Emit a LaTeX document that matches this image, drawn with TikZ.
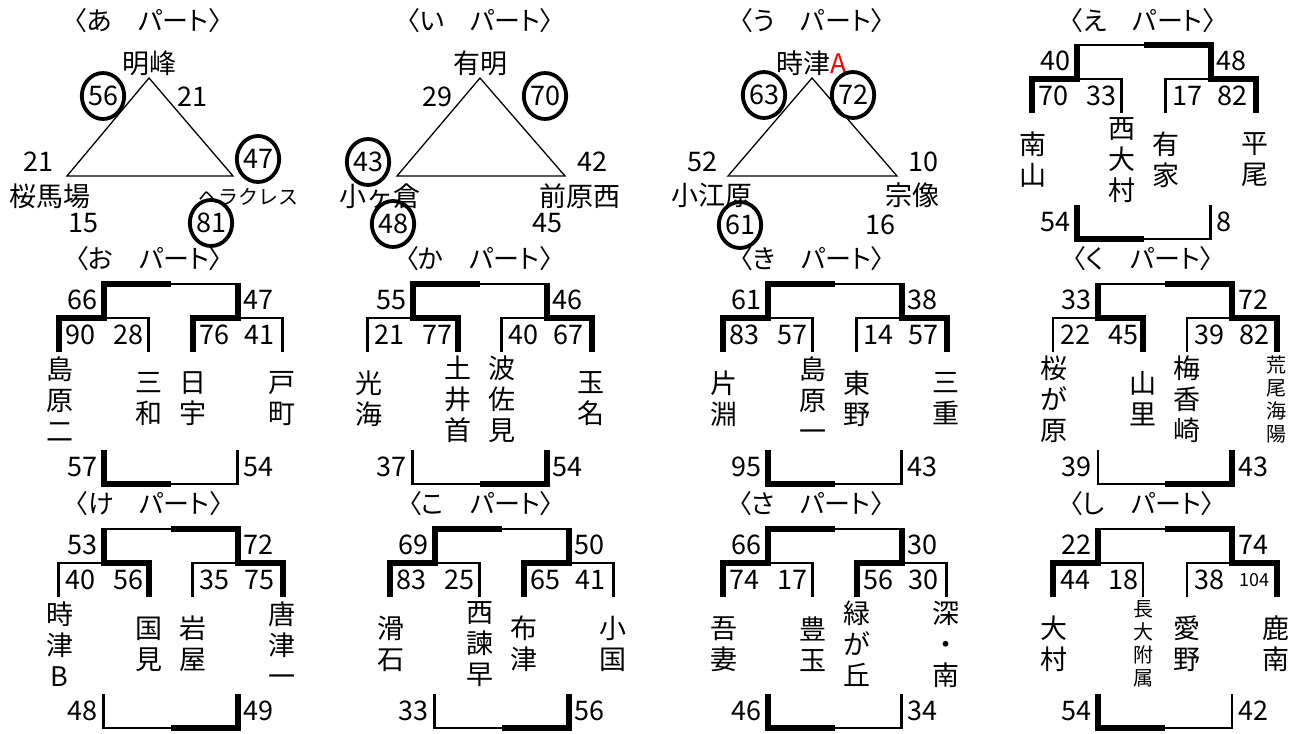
\documentclass[tikz,border=0pt]{standalone}
\usepackage{fontspec}
\setmainfont{Noto Sans CJK JP}
\newfontfamily\ttlfont{Noto Sans CJK JP}[RawFeature=+palt]
\usetikzlibrary{shapes.geometric}

\newcommand\bout[6]{%
  \pgfmathsetmacro\xmid{(#1+#2)/2}%
  \ifnum#5>#6\relax
    \draw[win] (#1,#4) -- (#1,#3) -- (\xmid,#3);
    \draw[lose] (\xmid,#3) -- (#2,#3) -- (#2,#4);
  \else
    \draw[lose] (#1,#4) -- (#1,#3) -- (\xmid,#3);
    \draw[win] (\xmid,#3) -- (#2,#3) -- (#2,#4);
  \fi}

\begin{document}
\begin{tikzpicture}[x=1pt,y=-1pt]
\tikzstyle{every node}+=[inner sep=0pt, font=\fontsize{27}{31}\selectfont]
\tikzstyle{win}=[line width=6pt]
\tikzstyle{lose}=[line width=2.4pt]
\tikzstyle{tri}=[line width=1.3pt, line join=miter]
\tikzstyle{ttl}=[font=\ttlfont\fontsize{26}{30}\selectfont]
\tikzstyle{vname}=[align=center, font=\fontsize{27}{31}\selectfont]
\tikzstyle{vsmall}=[align=center, font=\fontsize{20}{23}\selectfont]
\tikzstyle{hit}=[draw, ellipse, line width=3.8pt, minimum width=42pt, minimum height=46pt]
\useasboundingbox (0,0) rectangle (1297,733);

\node[ttl] (ta) at (148,21) {〈あ　パート〉};
\node[ttl] (ti) at (480,21) {〈い　パート〉};
\node[ttl] (tu) at (812,21) {〈う　パート〉};
\node[ttl] (te) at (1143,21) {〈え　パート〉};
\node[ttl] (to) at (149,259) {〈お　パート〉};
\node[ttl] (tk) at (479,259) {〈か　パート〉};
\node[ttl] (tki) at (812,259) {〈き　パート〉};
\node[ttl] (tku) at (1143,259) {〈く　パート〉};
\node[ttl] (tke) at (149,504) {〈け　パート〉};
\node[ttl] (tko) at (481,504) {〈こ　パート〉};
\node[ttl] (tsa) at (811,504) {〈さ　パート〉};
\node[ttl] (tsi) at (1142,504) {〈し　パート〉};

\coordinate (aT) at (149,78);
\coordinate (aL) at (67,176);
\coordinate (aR) at (233,176);
\draw[tri] (aT) -- (aL) -- (aR) -- cycle;
\node (aN) at (149,63) {明峰};
\node[hit] (a1) at (103,96) {56};
\node (a2) at (192,97) {21};
\node (a3) at (38,162) {21};
\node[hit] (a4) at (258,159) {47};
\node (a5) at (50,196) {桜馬場};
\node[font=\fontsize{20}{24}\selectfont] (a6) at (248,197) {ヘラクレス};
\node (a7) at (83,223) {15};
\node[hit] (a8) at (211,223) {81};

\coordinate (iT) at (480,78);
\coordinate (iL) at (397,176);
\coordinate (iR) at (565,176);
\draw[tri] (iT) -- (iL) -- (iR) -- cycle;
\node (iN) at (480,63) {有明};
\node (i1) at (437,97) {29};
\node[hit] (i2) at (545,96) {70};
\node[hit] (i3) at (368,162) {43};
\node (i4) at (592,162) {42};
\node (i5) at (380,196) {小ヶ倉};
\node (i6) at (580,196) {前原西};
\node[hit] (i7) at (393,224) {48};
\node (i8) at (547,223) {45};

\coordinate (uT) at (812,78);
\coordinate (uL) at (728,176);
\coordinate (uR) at (897,176);
\draw[tri] (uT) -- (uL) -- (uR) -- cycle;
\node (uN) at (812,63) {時津\textcolor{red}{A}};
\node[hit] (u1) at (764,95) {63};
\node[hit] (u2) at (853,95) {72};
\node (u3) at (702,162) {52};
\node (u4) at (923,162) {10};
\node (u5) at (712,195) {小江原};
\node (u6) at (912,195) {宗像};
\node[hit] (u7) at (740,225) {61};
\node (u8) at (880,225) {16};

\foreach \cx/\yt/\yb/\fl/\fr/\pa/\pb/\pc/\pd/\ql/\qr [count=\i] in {
  1143.5/45/239/40/48/70/33/17/82/54/8,
  170.5/284/484/66/47/90/28/76/41/57/54,
  479.5/284/484/55/46/21/77/40/67/37/54,
  834.5/284/484/61/38/83/57/14/57/95/43,
  1165/284/484/33/72/22/45/39/82/39/43,
  170.5/529/728/53/72/40/56/35/75/48/49,
  501.5/529/728/69/50/83/25/65/41/33/56,
  834.5/529/728/66/30/74/17/56/30/46/34,
  1165/529/728/22/74/44/18/38/104/54/42} {
  \bout{\cx-67}{\cx+67}{\yt}{\yt+34}{\fl}{\fr}
  \draw[win] (\cx-67,\yt-1.2) -- (\cx-67,\yt+37);
  \draw[win] (\cx+67,\yt-1.2) -- (\cx+67,\yt+37);
  \bout{\cx-112}{\cx-22}{\yt+34}{\yt+68}{\pa}{\pb}
  \bout{\cx+22}{\cx+112}{\yt+34}{\yt+68}{\pc}{\pd}
  \bout{\cx-67}{\cx+67}{\yb}{\yb-34}{\ql}{\qr}
  \node[anchor=east] (b\i fl) at (\cx-73,\yt+16) {\fl};
  \node[anchor=west] (b\i fr) at (\cx+73,\yt+16) {\fr};
  \node (b\i pa) at (\cx-90,\yt+51) {\pa};
  \node (b\i pb) at (\cx-42,\yt+51) {\pb};
  \node (b\i pc) at (\cx+44,\yt+51) {\pc};
  \node (b\i pd) at (\cx+89,\yt+51) {\ifnum\pd>99 \fontsize{18}{20}\selectfont\fi\pd};
  \node[anchor=east] (b\i ql) at (\cx-73,\yb-17) {\ql};
  \node[anchor=west] (b\i qr) at (\cx+73,\yb-17) {\qr};
}

\node[vname] (e1) at (1032.5,160) {南\\山};
\node[vname] (e2) at (1121.5,160) {西\\大\\村};
\node[vname] (e3) at (1165.5,160) {有\\家};
\node[vname] (e4) at (1254.5,160) {平\\尾};

\node[vname] (o1) at (59.5,399) {島\\原\\二};
\node[vname] (o2) at (148.5,399) {三\\和};
\node[vname] (o3) at (192.5,399) {日\\宇};
\node[vname] (o4) at (281.5,399) {戸\\町};

\node[vname] (k1) at (368.5,399) {光\\海};
\node[vname] (k2) at (457.5,399) {土\\井\\首};
\node[vname] (k3) at (501.5,399) {波\\佐\\見};
\node[vname] (k4) at (590.5,399) {玉\\名};

\node[vname] (ki1) at (723.5,399) {片\\淵};
\node[vname] (ki2) at (812.5,399) {島\\原\\一};
\node[vname] (ki3) at (856.5,399) {東\\野};
\node[vname] (ki4) at (945.5,399) {三\\重};

\node[vname] (ku1) at (1054,399) {桜\\が\\原};
\node[vname] (ku2) at (1143,399) {山\\里};
\node[vname] (ku3) at (1187,399) {梅\\香\\崎};
\node[vsmall] (ku4) at (1276,399) {荒\\尾\\海\\陽};

\node[vname] (ke1) at (59.5,644) {時\\津\\B};
\node[vname] (ke2) at (148.5,644) {国\\見};
\node[vname] (ke3) at (192.5,644) {岩\\屋};
\node[vname] (ke4) at (281.5,644) {唐\\津\\一};

\node[vname] (ko1) at (390.5,644) {滑\\石};
\node[vname] (ko2) at (479.5,644) {西\\諫\\早};
\node[vname] (ko3) at (523.5,644) {布\\津};
\node[vname] (ko4) at (612.5,644) {小\\国};

\node[vname] (sa1) at (723.5,644) {吾\\妻};
\node[vname] (sa2) at (812.5,644) {豊\\玉};
\node[vname] (sa3) at (856.5,644) {緑\\が\\丘};
\node[vname] (sa4) at (945.5,644) {深\\・\\南};

\node[vname] (si1) at (1054,644) {大\\村};
\node[vsmall] (si2) at (1143,644) {長\\大\\附\\属};
\node[vname] (si3) at (1187,644) {愛\\野};
\node[vname] (si4) at (1276,644) {鹿\\南};
\end{tikzpicture}
\end{document}
